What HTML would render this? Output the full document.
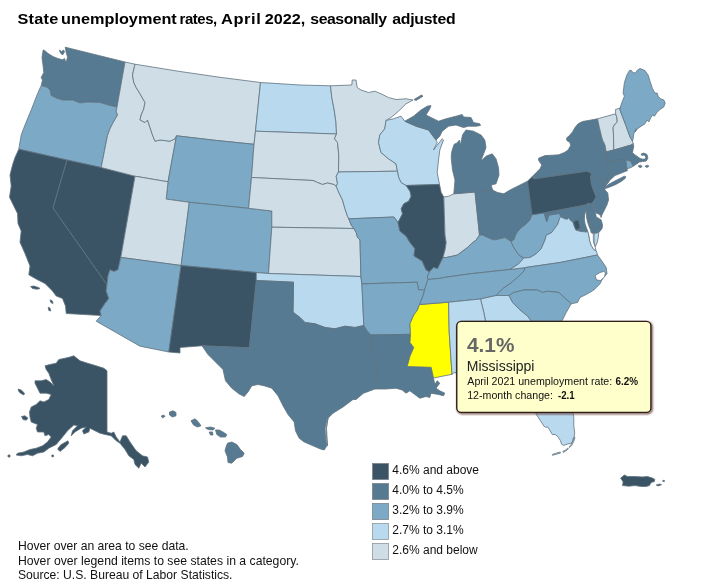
<!DOCTYPE html>
<html lang="en"><head><meta charset="utf-8"><title>State unemployment rates, April 2022, seasonally adjusted</title>
<style>
html,body{margin:0;padding:0;background:#fff;}
body{width:712px;height:586px;overflow:hidden;position:relative;font-family:"Liberation Sans",Arial,sans-serif;}
svg{position:absolute;left:0;top:0;}
.st{stroke:#5f727f;stroke-width:0.8;stroke-linejoin:round;}
</style></head><body>
<svg width="712" height="586" viewBox="0 0 712 586" font-family="'Liberation Sans',Arial,sans-serif">
<rect width="712" height="586" fill="#ffffff"/>
<g class="st">
<path d="M41.2,85.5 42.5,80.0 41.2,77.5 43.8,72.5 43.0,65.0 42.0,57.5 43.2,49.9 44.7,50.5 48.1,53.5 52.8,56.4 57.8,58.5 62.4,59.8 64.5,58.5 66.2,62.8 67.5,56.9 66.2,52.6 65.2,47.2 125.0,62.0 117.0,107.0 110.0,105.5 100.0,102.5 87.5,102.0 80.0,103.0 72.5,100.0 62.5,100.0 56.2,98.0 51.2,95.5 50.0,90.0 47.5,87.5 41.2,85.5Z" fill="#557a92"/>
<path d="M59.5,50.1 61.6,51.4 63.7,50.1 64.5,51.8 62.9,54.7 61.2,53.9 59.9,51.8Z" fill="#557a92"/>
<path d="M18.8,149.2 21.2,135.0 25.0,125.0 31.2,110.0 37.5,93.8 41.2,85.5 47.5,87.5 50.0,90.0 51.2,95.5 56.2,98.0 62.5,100.0 72.5,100.0 80.0,103.0 87.5,102.0 100.0,102.5 110.0,105.5 117.0,107.0 116.2,111.2 117.5,115.0 112.5,123.8 110.0,128.8 107.5,135.5 101.2,167.5 67.0,160.0Z" fill="#7ba9c6"/>
<path d="M66.2,313.5 65.5,306.0 62.5,298.5 56.2,296.0 52.5,291.0 45.0,283.5 37.5,279.8 28.8,274.8 30.0,266.0 25.0,253.5 20.0,242.2 21.2,231.0 18.0,223.5 17.5,213.5 13.8,206.0 9.5,197.2 11.2,186.0 10.0,175.0 12.5,165.0 15.0,157.5 18.8,149.2 67.0,160.0 53.0,208.0 107.0,284.8 106.2,291.0 108.8,298.5 105.0,303.5 100.0,311.0 101.2,315.5 66.2,313.5Z" fill="#3b5465"/>
<path d="M30.5,286.5 33.8,286.0 37.5,287.2 40.0,288.5 37.0,289.2 32.5,288.5Z" fill="#3b5465"/>
<path d="M50.0,299.8 52.5,301.0 53.0,303.5 50.8,302.5Z" fill="#3b5465"/>
<path d="M48.2,307.2 50.0,308.0 50.8,311.0 48.8,310.5Z" fill="#3b5465"/>
<path d="M67.0,160.0 101.2,167.5 135.0,176.2 120.8,257.4 118.0,269.8 113.8,271.5 110.0,269.8 108.0,276.0 107.0,284.8 53.0,208.0Z" fill="#3b5465"/>
<path d="M125.0,62.0 135.0,64.2 132.5,75.0 133.8,82.5 136.2,87.5 140.0,93.8 145.0,102.5 143.8,108.8 141.2,115.0 140.0,120.0 145.0,122.5 147.5,120.0 150.0,127.5 152.5,135.0 155.0,141.2 160.0,140.0 170.0,141.2 175.0,138.8 176.5,135.8 168.0,181.8 135.0,176.2 101.2,167.5 107.5,135.5 110.0,128.8 112.5,123.8 117.5,115.0 116.2,111.2 117.0,107.0Z" fill="#cfdde7"/>
<path d="M135.0,64.2 178.0,71.2 220.0,77.3 260.5,82.5 255.5,131.2 254.0,144.3 215.0,140.3 176.5,135.8 175.0,138.8 170.0,141.2 160.0,140.0 155.0,141.2 152.5,135.0 150.0,127.5 147.5,120.0 145.0,122.5 140.0,120.0 141.2,115.0 143.8,108.8 145.0,102.5 140.0,93.8 136.2,87.5 133.8,82.5 132.5,75.0 135.0,64.2Z" fill="#cfdde7"/>
<path d="M176.5,135.8 215.0,140.3 254.0,144.3 251.5,177.5 248.6,208.3 189.3,202.3 166.2,199.1 168.0,181.8Z" fill="#7ba9c6"/>
<path d="M135.0,176.2 168.0,181.8 166.2,199.1 189.3,202.3 181.1,265.5 120.8,257.4Z" fill="#cfdde7"/>
<path d="M189.3,202.3 248.6,208.3 271.8,211.0 271.8,227.2 268.5,273.5 256.3,272.5 181.1,265.5Z" fill="#7ba9c6"/>
<path d="M120.8,257.4 181.1,265.5 168.8,352.0 140.0,346.2 96.2,321.2 101.2,315.5 100.0,311.0 105.0,303.5 108.8,298.5 106.2,291.0 107.0,284.8 108.0,276.0 110.0,269.8 113.8,271.5 118.0,269.8 120.8,257.4Z" fill="#7ba9c6"/>
<path d="M181.1,265.5 256.3,272.5 256.3,280.5 249.4,347.8 202.0,345.8 180.0,347.5 180.0,353.0 168.8,352.0Z" fill="#3b5465"/>
<path d="M260.5,82.5 300.0,85.0 330.5,85.8 331.8,97.5 334.2,110.0 336.0,122.5 336.5,134.0 255.5,131.2Z" fill="#b9d9ee"/>
<path d="M255.5,131.2 336.5,134.0 334.5,138.8 337.5,142.5 338.8,155.0 338.5,172.0 336.2,176.2 337.5,183.8 336.2,186.2 333.8,184.5 327.5,183.0 322.5,184.5 317.5,182.5 313.0,180.5 251.5,177.5 254.0,144.3Z" fill="#cfdde7"/>
<path d="M251.5,177.5 313.0,180.5 317.5,182.5 322.5,184.5 327.5,183.0 333.8,184.5 336.2,186.2 338.8,192.5 342.5,200.0 345.0,208.8 347.5,216.2 348.8,218.8 351.2,225.0 353.8,228.5 271.8,227.2 271.8,211.0 248.6,208.3Z" fill="#cfdde7"/>
<path d="M271.8,227.2 353.8,228.5 356.2,232.5 357.5,237.5 360.0,240.0 360.9,276.5 268.5,273.5Z" fill="#cfdde7"/>
<path d="M256.3,272.5 268.5,273.5 360.9,276.5 361.9,283.9 363.8,325.5 355.0,327.5 345.0,326.2 335.0,328.8 325.0,327.5 315.0,323.8 305.0,322.5 300.0,317.5 293.0,312.2 293.5,282.2 256.3,280.5Z" fill="#b9d9ee"/>
<path d="M256.3,280.5 293.5,282.2 293.0,312.2 300.0,317.5 305.0,322.5 315.0,323.8 325.0,327.5 335.0,328.8 345.0,326.2 355.0,327.5 363.8,325.5 367.5,331.2 371.2,335.0 372.2,347.0 375.5,362.0 377.2,375.8 374.9,389.0 363.5,393.2 356.0,399.5 353.0,399.5 343.0,407.0 333.0,413.2 326.8,419.5 325.0,428.2 325.5,437.0 326.8,445.8 324.2,450.0 320.5,449.0 313.0,445.8 304.2,442.0 299.2,438.2 295.5,430.8 294.2,422.0 288.0,414.5 283.0,405.8 278.0,395.8 271.8,388.2 264.2,385.8 258.0,384.5 251.8,385.8 248.0,392.0 244.2,396.5 239.2,394.0 231.8,388.2 225.5,380.8 223.0,369.5 215.5,362.0 208.0,354.5 202.0,345.8 249.4,347.8Z" fill="#557a92"/>
<path d="M328.0,418.2 326.0,428.2 326.5,437.0 327.5,445.8 327.0,437.0 326.5,428.2Z" fill="#ffffff"/>
<path d="M330.5,85.8 351.8,85.0 352.2,80.0 356.0,80.0 357.2,87.5 361.0,90.0 368.5,92.5 374.8,91.2 381.0,93.8 388.5,97.5 396.0,99.5 406.0,98.8 413.0,100.0 406.0,103.8 398.5,111.2 391.0,117.5 386.0,120.5 384.8,128.8 379.8,135.0 378.5,142.5 381.0,152.5 388.5,158.8 396.0,163.8 397.5,171.2 338.5,172.0 338.8,155.0 337.5,142.5 334.5,138.8 336.5,134.0 336.0,122.5 334.2,110.0 331.8,97.5 330.5,85.8Z" fill="#cfdde7"/>
<path d="M338.5,172.0 397.5,171.2 398.8,177.5 401.2,182.5 406.2,185.5 410.0,191.2 411.2,196.2 408.8,201.2 403.8,203.8 401.2,208.8 402.5,213.8 400.0,218.8 398.0,222.5 396.2,220.0 393.8,217.0 348.8,218.8 347.5,216.2 345.0,208.8 342.5,200.0 338.8,192.5 336.2,186.2 337.5,183.8 336.2,176.2 338.5,172.0Z" fill="#b9d9ee"/>
<path d="M348.8,218.8 393.8,217.0 396.2,220.0 398.0,222.5 399.8,231.0 406.0,236.0 409.8,242.2 414.8,248.5 414.0,256.0 422.2,261.0 426.0,269.8 429.5,271.8 427.3,277.0 428.0,279.5 426.0,285.0 424.5,290.5 422.2,289.8 418.5,289.8 417.2,282.2 361.9,283.9 360.9,276.5 360.0,240.0 357.5,237.5 356.2,232.5 353.8,228.5 351.2,225.0 348.8,218.8Z" fill="#7ba9c6"/>
<path d="M361.9,283.9 417.2,282.2 418.5,289.8 422.2,289.8 424.5,290.5 423.0,296.0 419.5,304.5 417.5,310.0 413.8,315.0 410.0,323.8 410.5,334.3 371.2,335.0 367.5,331.2 363.8,325.5Z" fill="#7ba9c6"/>
<path d="M371.2,335.0 410.5,334.3 410.0,342.5 413.8,347.5 410.0,356.2 407.2,366.5 431.2,367.3 433.5,378.0 434.8,384.5 437.2,380.8 439.8,383.2 436.0,388.2 439.8,390.8 444.8,393.2 443.5,395.8 438.5,394.5 431.0,393.2 429.8,397.5 426.0,396.5 419.8,398.2 414.8,394.5 409.8,390.8 406.0,393.2 402.2,390.0 396.0,388.2 386.0,389.0 374.9,389.0 377.2,375.8 375.5,362.0 372.2,347.0 371.2,335.0Z" fill="#557a92"/>
<path d="M419.5,304.5 448.6,302.2 449.2,332.0 452.0,374.3 433.5,378.0 431.2,367.3 407.2,366.5 410.0,356.2 413.8,347.5 410.0,342.5 410.5,334.3 410.0,323.8 413.8,315.0 417.5,310.0 419.5,304.5Z" fill="#ffff00"/>
<path d="M386.0,120.5 393.5,118.8 401.0,116.2 404.8,121.2 416.0,126.2 428.5,130.0 436.0,140.0 437.2,142.5 433.5,150.0 442.2,138.8 443.5,140.0 439.8,150.0 438.5,160.0 437.2,172.5 439.5,184.5 406.2,185.5 401.2,182.5 398.8,177.5 397.5,171.2 396.0,163.8 388.5,158.8 381.0,152.5 378.5,142.5 379.8,135.0 384.8,128.8 386.0,120.5Z" fill="#b9d9ee"/>
<path d="M406.2,185.5 439.5,184.5 441.2,192.5 443.8,197.0 445.0,235.0 446.2,242.5 445.0,250.0 443.0,257.5 440.0,263.8 437.5,268.8 433.8,267.5 429.5,271.8 426.0,269.8 422.2,261.0 414.0,256.0 414.8,248.5 409.8,242.2 406.0,236.0 399.8,231.0 398.0,222.5 400.0,218.8 402.5,213.8 401.2,208.8 403.8,203.8 408.8,201.2 411.2,196.2 410.0,191.2 406.2,185.5Z" fill="#3b5465"/>
<path d="M443.8,197.0 448.8,196.2 453.8,193.8 475.0,192.0 479.5,235.0 476.2,240.0 471.2,243.8 467.5,247.5 462.5,251.2 457.5,255.0 452.5,256.2 446.2,257.5 443.0,257.5 445.0,250.0 446.2,242.5 445.0,235.0 443.8,197.0Z" fill="#cfdde7"/>
<path d="M475.0,192.0 492.5,190.0 497.5,192.5 503.8,193.8 510.0,190.0 520.0,185.0 527.5,181.2 532.0,214.7 530.0,220.0 525.0,225.0 520.0,228.8 516.2,233.8 513.8,240.0 511.0,241.5 505.0,237.5 500.0,238.8 493.8,240.0 487.5,237.5 482.5,235.0 479.5,235.0Z" fill="#557a92"/>
<path d="M429.5,271.8 433.8,267.5 437.5,268.8 440.0,263.8 443.0,257.5 446.2,257.5 452.5,256.2 457.5,255.0 462.5,251.2 467.5,247.5 471.2,243.8 476.2,240.0 479.5,235.0 482.5,235.0 487.5,237.5 493.8,240.0 500.0,238.8 505.0,237.5 511.0,241.5 513.8,247.5 518.8,255.0 523.8,258.0 518.8,263.8 510.0,269.5 470.0,273.8 443.8,277.5 441.0,278.2 428.0,279.5 427.3,277.0 429.5,271.8Z" fill="#7ba9c6"/>
<path d="M428.0,279.5 441.0,278.2 443.8,277.5 470.0,273.8 510.0,269.5 525.5,267.5 523.8,271.2 517.5,277.5 510.0,283.8 502.5,288.8 496.2,295.5 480.5,299.0 448.6,302.2 419.5,304.5 423.0,296.0 424.5,290.5 426.0,285.0 428.0,279.5Z" fill="#7ba9c6"/>
<path d="M404.8,121.2 413.5,116.2 421.0,110.0 427.2,106.2 431.0,105.5 429.8,108.8 426.0,115.0 431.0,117.5 438.5,121.2 446.0,118.8 456.0,116.2 462.2,114.5 463.5,117.0 471.0,117.5 473.5,122.5 479.8,123.8 480.5,125.5 476.0,126.2 468.5,126.2 463.5,127.5 456.0,125.0 448.5,126.2 442.2,131.2 439.8,136.2 436.0,140.0 428.5,130.0 416.0,126.2Z" fill="#557a92"/>
<path d="M466.0,130.0 473.5,131.2 481.0,135.0 484.8,140.0 486.0,147.5 482.2,157.5 481.0,161.2 486.0,156.2 492.2,153.8 496.0,158.8 498.5,167.5 499.0,175.0 496.0,183.8 491.2,185.0 492.5,190.0 475.0,192.0 453.8,193.8 455.0,180.0 452.5,170.0 451.2,157.5 451.6,152.5 452.5,149.1 454.2,144.2 456.7,143.2 459.5,140.0 460.7,145.5 461.6,139.3 462.6,134.7Z" fill="#557a92"/>
<path d="M414.0,99.5 421.5,95.0 423.0,96.2 416.0,100.5Z" fill="#557a92"/>
<path d="M532.0,214.7 530.0,220.0 525.0,225.0 520.0,228.8 516.2,233.8 513.8,240.0 511.0,241.5 513.8,247.5 518.8,255.0 523.8,258.0 530.0,257.5 536.2,253.8 541.2,248.8 545.0,240.0 546.3,235.2 551.5,232.7 553.5,230.0 557.6,224.6 559.6,218.5 560.6,216.8 559.8,213.3 554.9,214.1 548.8,215.1 548.3,216.5 546.8,221.5 545.0,216.0 544.7,212.8 532.0,214.7Z" fill="#7ba9c6"/>
<path d="M597.5,118.8 590.0,120.2 582.5,121.5 578.1,123.8 575.0,127.5 572.5,131.9 569.4,135.6 566.5,138.1 566.9,140.6 570.0,142.5 570.6,145.6 568.1,150.0 564.4,152.5 558.8,154.8 552.5,155.2 545.0,155.6 538.8,158.1 538.5,160.0 540.0,162.5 541.9,165.0 540.0,168.8 535.0,173.8 531.9,176.9 533.8,179.0 587.5,171.2 591.8,174.2 604.3,181.0 604.5,188.0 606.0,186.0 607.8,183.1 608.8,171.2 607.5,160.6 606.2,151.9 605.0,145.0 602.5,140.0 601.2,135.0 599.4,127.5 597.5,118.8Z" fill="#557a92"/>
<path d="M604.4,188.6 608.8,184.2 613.8,181.6 620.0,178.4 624.4,176.2 626.0,176.9 625.0,178.5 621.2,181.4 616.2,184.3 611.2,186.4 606.2,188.3Z" fill="#557a92"/>
<path d="M527.5,181.2 531.9,176.9 533.8,179.0 587.5,171.2 591.8,174.2 590.6,176.2 591.2,182.5 592.5,187.5 596.2,196.9 593.8,201.2 591.0,203.8 588.0,203.3 585.5,205.0 544.7,212.8 532.0,214.7Z" fill="#3b5465"/>
<path d="M591.8,174.2 604.3,181.0 604.5,188.0 605.0,190.0 607.8,193.1 608.5,200.0 606.9,205.0 604.4,210.0 601.9,215.0 601.0,217.5 600.6,215.6 598.1,213.8 595.9,212.9 594.7,210.0 593.5,207.0 591.0,203.8 593.8,201.2 596.2,196.9 592.5,187.5 591.2,182.5 590.6,176.2 591.8,174.2Z" fill="#557a92"/>
<path d="M591.0,203.8 593.2,207.0 594.4,210.0 595.5,213.2 596.2,216.9 599.4,218.7 601.3,220.2 602.5,225.0 602.2,227.5 592.5,228.8 585.5,205.0 588.0,203.3Z" fill="#557a92"/>
<path d="M544.7,212.8 585.5,205.0 592.5,228.8 602.2,227.5 601.9,228.8 598.8,232.5 594.3,233.5 588.0,231.5 586.0,232.0 579.8,231.3 575.8,230.0 574.4,226.6 573.1,222.6 570.0,219.9 568.7,217.5 567.7,219.2 564.9,218.9 560.6,216.8 559.8,213.3 554.9,214.1 548.8,215.1 548.3,216.5 546.8,221.5 545.0,216.0 544.7,212.8Z" fill="#557a92"/>
<path d="M510.0,269.5 518.8,263.8 523.8,258.0 530.0,257.5 536.2,253.8 541.2,248.8 545.0,240.0 546.3,235.2 551.5,232.7 553.5,230.0 557.6,224.6 559.6,218.5 560.6,216.8 564.9,218.9 567.7,219.2 568.7,217.5 570.0,219.9 573.1,222.6 574.4,226.6 575.8,230.0 579.8,231.3 586.0,232.0 588.0,231.5 589.0,236.0 589.8,241.0 591.3,245.5 593.8,249.5 596.3,250.8 597.5,255.0 560.0,262.5 525.5,267.5Z" fill="#b9d9ee"/>
<path d="M594.3,233.5 598.8,232.5 598.3,237.5 597.2,242.5 595.2,246.8 594.0,242.0 594.0,237.5Z" fill="#b9d9ee"/>
<path d="M573.3,221.6 578.4,219.8 580.2,228.0 576.2,230.1 574.6,226.6Z" fill="#3b5465"/>
<path d="M585.9,211.0 584.6,215.0 584.4,219.5 585.1,224.0 586.5,228.0 587.9,231.5 589.0,236.0 589.8,241.0 591.3,245.5 593.7,249.5 596.0,250.3 594.9,246.3 593.5,242.0 593.3,237.5 593.4,234.0 591.4,233.0 590.3,229.5 588.7,225.5 587.3,221.0 586.4,216.0 586.6,211.5Z" fill="#ffffff"/>
<path d="M525.5,267.5 560.0,262.5 597.5,255.0 601.2,260.0 606.2,267.5 607.0,273.8 602.5,278.8 600.0,283.8 593.8,290.0 587.5,293.8 580.0,297.5 577.5,302.5 571.2,303.8 558.8,292.5 547.5,291.2 542.5,292.5 537.5,290.0 523.8,290.0 513.8,292.5 508.8,295.5 496.2,295.5 502.5,288.8 510.0,283.8 517.5,277.5 523.8,271.2 525.5,267.5Z" fill="#7ba9c6"/>
<path d="M595.0,275.5 600.0,272.5 603.5,271.5 605.5,272.5 604.5,277.0 600.5,280.5 596.5,280.0Z" fill="#ffffff"/>
<path d="M508.8,295.5 513.8,292.5 523.8,290.0 537.5,290.0 542.5,292.5 547.5,291.2 558.8,292.5 571.2,303.8 566.2,312.5 562.5,320.0 555.0,330.0 548.0,338.0 540.0,330.0 531.2,321.2 527.5,316.2 520.0,310.0 512.5,302.5 508.8,295.5Z" fill="#7ba9c6"/>
<path d="M480.5,299.0 496.2,295.5 508.8,295.5 512.5,302.5 520.0,310.0 527.5,316.2 531.2,321.2 540.0,330.0 548.0,338.0 546.0,350.0 545.0,362.0 500.0,366.0 487.0,364.0 488.0,350.0 485.0,340.0 485.5,321.2 483.8,312.5 480.5,299.0Z" fill="#b9d9ee"/>
<path d="M448.6,302.2 480.5,299.0 483.8,312.5 485.5,321.2 485.0,340.0 488.0,350.0 487.0,364.0 460.0,366.5 458.0,376.0 455.0,372.0 452.0,374.3 449.2,332.0Z" fill="#b9d9ee"/>
<path d="M460.0,366.5 487.0,364.0 500.0,366.0 545.0,362.0 550.0,380.0 560.0,400.0 572.0,410.0 573.0,413.4 573.8,417.6 573.8,426.1 574.7,432.8 574.2,436.6 573.0,438.7 572.6,442.1 570.4,443.3 567.1,444.2 563.7,445.4 561.6,444.2 560.3,440.4 557.8,436.6 555.3,434.5 552.3,434.5 549.8,430.3 547.7,426.9 545.6,427.3 543.9,426.1 540.1,420.2 536.3,414.3 532.0,400.0 530.0,385.0 522.0,378.0 510.0,375.0 495.0,380.0 480.0,378.0 470.0,374.0 458.0,376.0Z" fill="#b9d9ee"/>
<path d="M575.0,437.4 573.8,441.2 571.6,445.6 569.6,447.6 568.9,446.9 570.8,445.0 573.0,441.0 574.2,437.2Z" fill="#b9d9ee"/>
<path d="M568.4,448.9 566.0,450.8 563.2,452.4 562.8,451.5 565.5,450.0 567.8,448.1Z" fill="#b9d9ee"/>
<path d="M560.5,453.0 556.0,454.3 552.5,455.3 552.3,454.4 555.8,453.3 560.2,452.0Z" fill="#b9d9ee"/>
<path d="M597.5,118.8 615.6,113.8 616.9,117.5 617.2,121.9 614.4,125.0 613.1,127.5 613.5,135.0 613.8,150.0 606.2,151.9 605.0,145.0 602.5,140.0 601.2,135.0 599.4,127.5 597.5,118.8Z" fill="#cfdde7"/>
<path d="M615.6,113.8 615.6,109.4 620.0,108.1 620.0,110.0 626.2,126.2 630.0,136.9 632.5,141.2 633.1,143.5 631.9,144.8 613.8,150.0 613.5,135.0 613.1,127.5 614.4,125.0 617.2,121.9 616.9,117.5 615.6,113.8Z" fill="#cfdde7"/>
<path d="M620.0,108.1 621.9,102.5 624.4,96.2 623.1,93.1 624.4,82.5 626.9,75.0 629.4,70.6 631.2,70.2 632.8,72.5 635.6,73.1 637.5,70.0 640.0,68.5 645.0,70.6 648.1,75.0 650.0,81.2 652.5,88.8 655.0,93.1 657.2,93.1 658.1,96.2 660.6,98.8 663.8,100.0 665.2,103.1 663.8,106.9 660.0,109.4 656.9,112.5 654.4,116.2 652.5,115.0 650.6,118.1 648.8,121.9 646.9,120.0 645.0,123.8 641.2,126.2 637.5,128.8 635.0,131.9 636.2,128.8 633.8,133.8 633.1,138.8 632.5,141.2 630.0,136.9 626.2,126.2 620.0,110.0 620.0,108.1Z" fill="#7ba9c6"/>
<path d="M606.2,151.9 613.8,150.0 631.9,144.8 633.1,143.5 633.8,146.2 633.1,149.4 632.5,152.5 634.4,154.4 636.9,156.2 639.4,157.9 640.2,158.4 642.5,159.2 644.6,159.1 645.9,158.0 645.4,156.0 643.5,155.0 641.8,155.4 641.2,153.9 643.8,153.1 647.0,154.5 647.9,158.2 646.2,161.0 642.5,161.5 639.4,162.0 636.9,163.8 635.0,165.0 633.1,166.2 630.6,161.2 625.6,160.0 607.5,160.6Z" fill="#557a92"/>
<path d="M638.1,165.9 640.6,165.2 642.2,166.5 640.0,167.8Z" fill="#557a92"/>
<path d="M645.0,166.2 647.5,165.2 649.0,166.2 646.9,167.5Z" fill="#557a92"/>
<path d="M625.6,160.0 630.6,161.2 633.1,166.2 631.2,167.5 626.9,168.8Z" fill="#7ba9c6"/>
<path d="M607.5,160.6 625.6,160.0 626.9,168.8 627.5,170.6 621.2,173.1 615.0,175.6 610.0,180.0 607.8,183.1 608.8,171.2Z" fill="#557a92"/>
<path d="M73.8,355.8 80.0,360.8 87.5,363.2 96.2,365.8 103.8,368.2 107.0,370.8 107.0,432.0 111.2,433.2 113.8,432.0 116.2,437.0 120.0,442.0 122.5,435.8 126.2,435.8 130.0,442.0 136.2,450.8 142.5,455.8 147.5,457.0 148.8,462.0 145.0,467.0 141.2,463.2 138.8,468.2 135.0,464.5 133.8,459.5 128.8,455.8 125.0,449.5 120.0,443.2 116.2,440.8 111.2,435.8 105.0,434.5 100.0,433.2 95.0,430.8 90.0,428.2 88.8,432.0 83.8,434.0 82.5,430.8 86.2,427.0 81.2,428.2 75.0,432.0 71.2,435.8 72.5,430.8 77.5,425.8 73.8,425.0 67.5,430.8 62.5,437.0 56.2,444.5 48.8,448.2 43.8,452.0 37.5,453.2 32.5,455.8 27.5,454.5 21.2,455.8 16.2,455.0 17.5,453.2 23.8,452.0 30.0,449.5 36.2,448.2 42.5,445.8 47.5,442.0 51.2,437.0 48.8,434.5 45.0,435.8 43.8,432.0 37.5,432.0 36.2,428.2 37.5,424.5 31.2,422.0 30.0,417.0 29.5,412.0 31.2,407.0 36.2,404.5 40.0,400.8 43.8,402.0 48.8,399.5 51.2,394.5 46.2,393.2 40.0,393.2 37.5,388.2 35.0,383.2 35.0,380.8 41.2,380.8 46.2,379.5 50.0,382.0 53.8,385.8 51.2,379.5 48.8,373.2 46.2,369.5 45.0,365.8 50.0,364.5 56.2,363.2 58.8,359.5 65.0,358.2 70.0,357.0Z" fill="#3b5465"/>
<path d="M58.0,448.2 61.2,444.5 68.0,440.8 68.8,443.2 65.0,447.5 60.0,451.5 58.0,449.5Z" fill="#3b5465"/>
<path d="M18.0,389.0 21.2,390.0 24.5,393.2 23.8,395.0 20.5,393.2 18.8,391.5Z" fill="#3b5465"/>
<path d="M21.5,416.5 25.0,415.8 28.0,418.2 26.2,420.2 23.0,419.5Z" fill="#3b5465"/>
<path d="M8.0,455.0 10.0,455.0 10.0,457.0 8.0,457.0Z" fill="#3b5465"/>
<path d="M51.8,455.0 53.5,455.0 53.5,456.8 51.8,456.8Z" fill="#3b5465"/>
<path d="M161.2,416.0 163.8,415.0 165.0,416.5 162.5,417.8Z" fill="#557a92"/>
<path d="M169.5,412.0 173.0,410.8 176.0,412.5 176.0,415.8 172.5,417.0 169.5,415.0Z" fill="#557a92"/>
<path d="M191.0,420.8 195.0,418.8 198.0,421.5 201.0,425.8 197.5,427.0 193.5,425.0Z" fill="#557a92"/>
<path d="M205.5,427.8 210.5,427.0 215.0,428.2 213.0,430.0 208.0,429.5Z" fill="#557a92"/>
<path d="M209.2,432.0 212.5,432.0 213.0,435.0 210.5,435.0Z" fill="#557a92"/>
<path d="M215.5,430.0 219.2,430.0 223.0,432.0 226.8,434.5 225.5,437.0 220.5,437.0 216.8,434.5Z" fill="#557a92"/>
<path d="M227.5,443.2 231.8,442.0 236.8,444.5 240.5,449.5 244.2,453.2 242.5,456.5 236.8,458.2 231.8,463.2 228.0,462.5 227.5,457.0 225.0,450.8 226.0,447.0Z" fill="#557a92"/>
<path d="M620.6,478.1 624.4,475.0 627.5,476.5 635.0,476.5 642.5,476.9 647.5,476.5 652.5,478.1 654.8,479.4 654.4,481.5 651.2,482.5 649.4,485.6 646.2,486.5 641.2,486.5 635.0,485.6 628.8,486.2 622.5,485.6 623.1,481.9Z" fill="#3b5465"/>
<path d="M656.2,485.0 660.0,484.0 661.5,484.8 658.1,486.0Z" fill="#3b5465"/>
<path d="M662.8,480.4 664.4,480.4 664.4,481.5 662.8,481.5Z" fill="#3b5465"/>
</g>
<g font-size="14.2" font-weight="bold" fill="#000">
<text transform="translate(17.5,23.8) scale(1.150,1)" letter-spacing="0.2">State</text>
<text transform="translate(61.1,23.8) scale(1.146,1)">unemployment</text>
<text transform="translate(179.6,23.8) scale(1.053,1)" letter-spacing="-0.45">rates,</text>
<text transform="translate(221.0,23.8) scale(1.160,1)" letter-spacing="0.5">April</text>
<text transform="translate(264.8,23.8) scale(1.141,1)">2022,</text>
<text transform="translate(310.3,23.8) scale(1.114,1)" letter-spacing="-0.4">seasonally</text>
<text transform="translate(392.2,23.8) scale(1.115,1)" letter-spacing="-0.2">adjusted</text>
</g>
<g font-size="12" fill="#111">
<rect x="372.5" y="463.5" width="16" height="16" fill="#3b5465" stroke="#7a8288" stroke-width="0.8"/>
<rect x="372.5" y="483.5" width="16" height="16" fill="#557a92" stroke="#7a8288" stroke-width="0.8"/>
<rect x="372.5" y="503.5" width="16" height="16" fill="#7ba9c6" stroke="#7a8288" stroke-width="0.8"/>
<rect x="372.5" y="523.5" width="16" height="16" fill="#b9d9ee" stroke="#8e979d" stroke-width="0.8"/>
<rect x="372.5" y="543.5" width="16" height="16" fill="#cfdde7" stroke="#8e979d" stroke-width="0.8"/>
<text x="392.3" y="474.0">4.6% and above</text>
<text x="392.3" y="494.0">4.0% to 4.5%</text>
<text x="392.3" y="514.0">3.2% to 3.9%</text>
<text x="392.3" y="534.0">2.7% to 3.1%</text>
<text x="392.3" y="554.0">2.6% and below</text>
</g>
<g font-size="12.15" fill="#111">
<text x="17.9" y="550.2">Hover over an area to see data.</text>
<text x="17.9" y="565" textLength="281" lengthAdjust="spacingAndGlyphs">Hover over legend items to see states in a category.</text>
<text x="17.9" y="579.2">Source: U.S. Bureau of Labor Statistics.</text>
</g>
<g>
<rect x="457.75" y="322.4" width="194.15" height="91" rx="4.5" fill="none" stroke="#5a2a22" stroke-opacity="0.12" stroke-width="5"/>
<rect x="457.75" y="322.4" width="194.15" height="91" rx="4.5" fill="none" stroke="#5a2a22" stroke-opacity="0.2" stroke-width="3"/>
<rect x="457.75" y="322.4" width="194.15" height="91" rx="4.5" fill="none" stroke="#5a2a22" stroke-opacity="0.35" stroke-width="1.5"/>
<rect x="456.75" y="321.4" width="194.15" height="91" rx="4.5" fill="#ffffcc" stroke="#2e2018" stroke-width="1.4"/>
<text x="467" y="351.7" font-size="20.8" font-weight="bold" fill="#666">4.1%</text>
<text x="466.8" y="371.3" font-size="14" fill="#222">Mississippi</text>
<text x="467.3" y="385.1" font-size="10.65" fill="#111">April 2021 unemployment rate:</text>
<text transform="translate(615.4,385.1) scale(0.926,1)" font-size="10.75" font-weight="bold" fill="#111">6.2%</text>
<text x="467.2" y="398.7" font-size="10.65" fill="#111">12-month change:</text>
<text transform="translate(558,398.7) scale(0.9,1)" font-size="10.75" font-weight="bold" fill="#111">-2.1</text>
</g>
</svg>
</body></html>
